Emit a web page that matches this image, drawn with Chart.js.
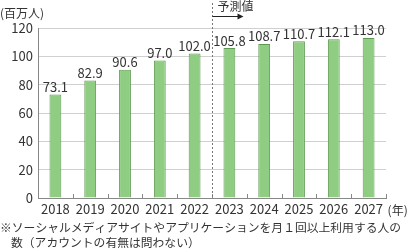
<!DOCTYPE html>
<html>
<head>
<meta charset="utf-8">
<script src="https://cdn.jsdelivr.net/npm/chart.js@4/dist/chart.umd.min.js"></script>
<style>
  html, body { margin: 0; padding: 0; background: #fff; }
  #wrap { width: 408px; height: 250px; }
</style>
</head>
<body>
<div id="wrap"><canvas id="c" width="408" height="250"></canvas></div>
<script>
// data
const years = ['2018', '2019', '2020', '2021', '2022', '2023', '2024', '2025', '2026', '2027'];
const users = [73.1, 82.9, 90.6, 97.0, 102.0, 105.8, 108.7, 110.7, 112.1, 113.0];
const yTicks = [0, 20, 40, 60, 80, 100, 120];
const forecastFrom = 5; // index of first forecast year

const FONT = '"Noto Sans CJK JP", "Noto Sans", sans-serif';
const TEXT = '#333';

// labels, divider, footnote
const extras = {
    id: 'extras',
    afterDatasetsDraw(chart) {
        const ctx = chart.ctx;
        const xs = chart.scales.x;
        const area = chart.chartArea;
        const meta = chart.getDatasetMeta(0);

        ctx.save();
        ctx.font = '13px ' + FONT;
        ctx.fillStyle = TEXT;
        ctx.textAlign = 'center';
        ctx.textBaseline = 'bottom';
        meta.data.forEach((bar, i) => {
            ctx.fillText(users[i].toFixed(1), bar.x, bar.y - 1);
        });

        // small ticks at category boundaries
        ctx.strokeStyle = '#888';
        ctx.lineWidth = 1;
        const step = xs.getPixelForValue(1) - xs.getPixelForValue(0);
        for (let i = 0; i <= years.length; i++) {
            const x = Math.round(xs.getPixelForValue(i) - step / 2) + 0.5;
            ctx.beginPath();
            ctx.moveTo(x, area.bottom);
            ctx.lineTo(x, area.bottom - 4);
            ctx.stroke();
        }

        // forecast divider
        const dx = Math.round(xs.getPixelForValue(forecastFrom) - step / 2) + 0.5;
        ctx.strokeStyle = '#777';
        ctx.setLineDash([2, 2]);
        ctx.beginPath();
        ctx.moveTo(dx, 3);
        ctx.lineTo(dx, area.bottom);
        ctx.stroke();
        ctx.setLineDash([]);

        ctx.strokeStyle = '#222';
        ctx.beginPath();
        ctx.moveTo(dx, 16.5);
        ctx.lineTo(dx + 26, 16.5);
        ctx.stroke();
        ctx.fillStyle = '#222';
        ctx.beginPath();
        ctx.moveTo(dx + 31, 16.5);
        ctx.lineTo(dx + 25, 13.5);
        ctx.lineTo(dx + 25, 19.5);
        ctx.closePath();
        ctx.fill();

        ctx.fillStyle = TEXT;
        ctx.font = '12px ' + FONT;
        ctx.textAlign = 'left';
        ctx.textBaseline = 'middle';
        ctx.fillText('予測値', dx + 5, 6);

        ctx.font = '12px ' + FONT;
        ctx.fillText('(百万人)', 0, 13);

        const lastX = xs.getPixelForValue(years.length - 1);
        ctx.font = '12px ' + FONT;
        ctx.fillText('(年)', lastX + 19, 210);

        ctx.font = '11.8px ' + FONT;
        ctx.fillText('※ソーシャルメディアサイトやアプリケーションを月１回以上利用する人の', 0, 228);
        ctx.fillText('数（アカウントの有無は問わない）', 11, 243);
        ctx.restore();
    }
};

new Chart(document.getElementById('c'), {
    type: 'bar',
    data: {
        labels: years,
        datasets: [{
            data: users,
            backgroundColor: '#8fcd82',
            borderColor: '#5f9a52',
            borderWidth: 1,
            barPercentage: 0.34,
            categoryPercentage: 1
        }]
    },
    options: {
        responsive: false,
        animation: false,
        devicePixelRatio: 1,
        layout: { padding: { top: 28, right: 22, left: 0, bottom: 0 } },
        plugins: { legend: { display: false }, tooltip: { enabled: false } },
        scales: {
            x: {
                grid: { display: false, drawTicks: false },
                border: { color: '#888' },
                ticks: { color: TEXT, font: { size: 13, family: FONT, lineHeight: 1 }, padding: 5, maxRotation: 0, autoSkip: false },
                afterFit(scale) { scale.height = 52; }
            },
            y: {
                min: 0,
                max: 120,
                afterBuildTicks(scale) { scale.ticks = yTicks.map(v => ({ value: v })); },
                grid: { color: '#d0d0d0', drawTicks: false },
                border: { color: '#888' },
                ticks: { color: TEXT, font: { size: 13, family: FONT }, padding: 5 },
                afterFit(scale) { scale.width = 38; }
            }
        }
    },
    plugins: [extras]
});
</script>
</body>
</html>
